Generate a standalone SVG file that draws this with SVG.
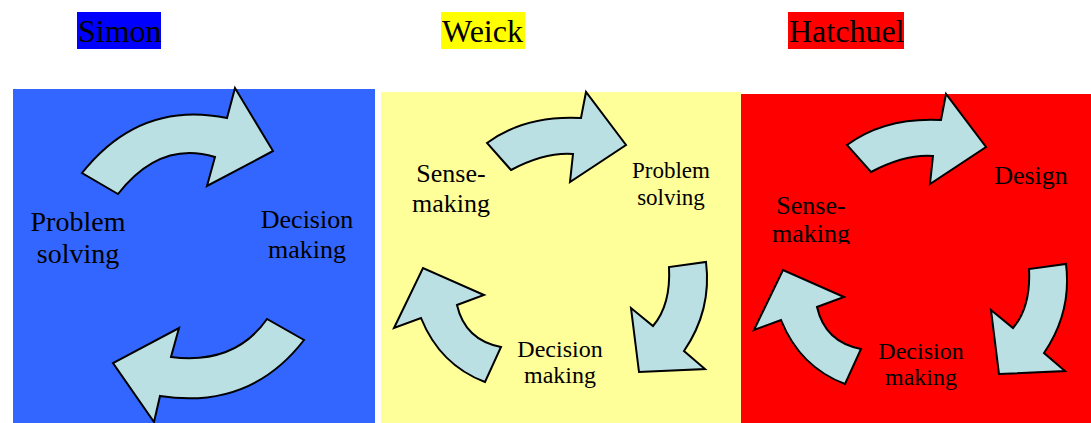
<svg xmlns="http://www.w3.org/2000/svg" width="1091" height="423" viewBox="0 0 1091 423">
<style>
text{font-family:"Liberation Serif","Times New Roman",serif;fill:#000}
.t{font-size:32px}
.l{font-size:24px;text-anchor:middle}
.a{fill:#BBE0E3;stroke:#000;stroke-width:2;stroke-linejoin:miter}
</style>
<defs>
<clipPath id="cr"><rect x="741" y="94" width="350" height="150"/></clipPath>
</defs>
<rect width="1091" height="423" fill="#fff"/>
<g id="panels">
<rect x="13" y="89" width="362" height="334" fill="#3366FF"/>
<rect x="381" y="92" width="360" height="331" fill="#FFFF99"/>
<rect x="741" y="94" width="350" height="329" fill="#FF0000"/>
</g>
<g id="titles">
<g id="simon"><rect x="77" y="12" width="84" height="37" fill="#0000FF"/><text class="t" x="78" y="42">Simon</text></g>
<g id="weick"><rect x="441" y="12" width="84" height="37" fill="#FFFF00"/><text class="t" x="442" y="42">Weick</text></g>
<g id="hatchuel"><rect x="788" y="12" width="116" height="37" fill="#FF0000"/><text class="t" x="789" y="42">Hatchuel</text></g>
</g>
<g id="connectors">
<path class="a" d="M82,173 Q140,100 227,118 L235,88 L273,151 L207,186 L215,157 Q160,140 118,194 Z"/>
<path class="a" d="M304,340 Q250,410 160,396 L154,422 L113,363 L179,328 L171,357 Q235,365 267,319 Z"/>
<path class="a" d="M487,143 Q525,115 581,118 L586,92 L626,145 L570,182 L573,154 Q545,152 511,170 Z"/>
<path class="a" d="M706,262 Q712,310 684,351 L705,369 L639,372 L631,308 L653,326 Q671,305 669,267 Z"/>
<path class="a" d="M485,382 Q440,365 421,318 L394,328 L423,268 L484,295 L457,305 Q465,340 501,347 Z"/>
<g transform="translate(360,2)">
<path class="a" d="M487,143 Q525,115 581,118 L586,92 L626,145 L570,182 L573,154 Q545,152 511,170 Z"/>
<path class="a" d="M706,262 Q712,310 684,351 L705,369 L639,372 L631,308 L653,326 Q671,305 669,267 Z"/>
<path class="a" d="M485,382 Q440,365 421,318 L394,328 L423,268 L484,295 L457,305 Q465,340 501,347 Z"/>
</g>
</g>
<g id="simon-problem"><text class="l" style="font-size:28px" x="78" y="231">Problem</text><text class="l" style="font-size:28px" x="78" y="263">solving</text></g>
<g id="simon-decision"><text class="l" style="font-size:26px" x="307" y="228">Decision</text><text class="l" style="font-size:26px" x="307" y="258">making</text></g>
<g id="weick-sense"><text class="l" style="font-size:26px" x="451" y="182">Sense-</text><text class="l" style="font-size:26px" x="451" y="212">making</text></g>
<g id="weick-problem"><text class="l" style="font-size:23px" x="671" y="178">Problem</text><text class="l" style="font-size:23px" x="671" y="205">solving</text></g>
<g id="weick-decision"><text class="l" style="font-size:24px" x="560" y="357">Decision</text><text class="l" style="font-size:24px" x="560" y="383">making</text></g>
<g id="hatchuel-design"><text class="l" style="font-size:26px" x="1031" y="184">Design</text></g>
<g id="hatchuel-sense" clip-path="url(#cr)"><text class="l" style="font-size:26px" x="811" y="214">Sense-</text><text class="l" style="font-size:26px" x="811" y="242">making</text></g>
<g id="hatchuel-decision"><text class="l" style="font-size:24px" x="921" y="359">Decision</text><text class="l" style="font-size:24px" x="921" y="385">making</text></g>
</svg>
